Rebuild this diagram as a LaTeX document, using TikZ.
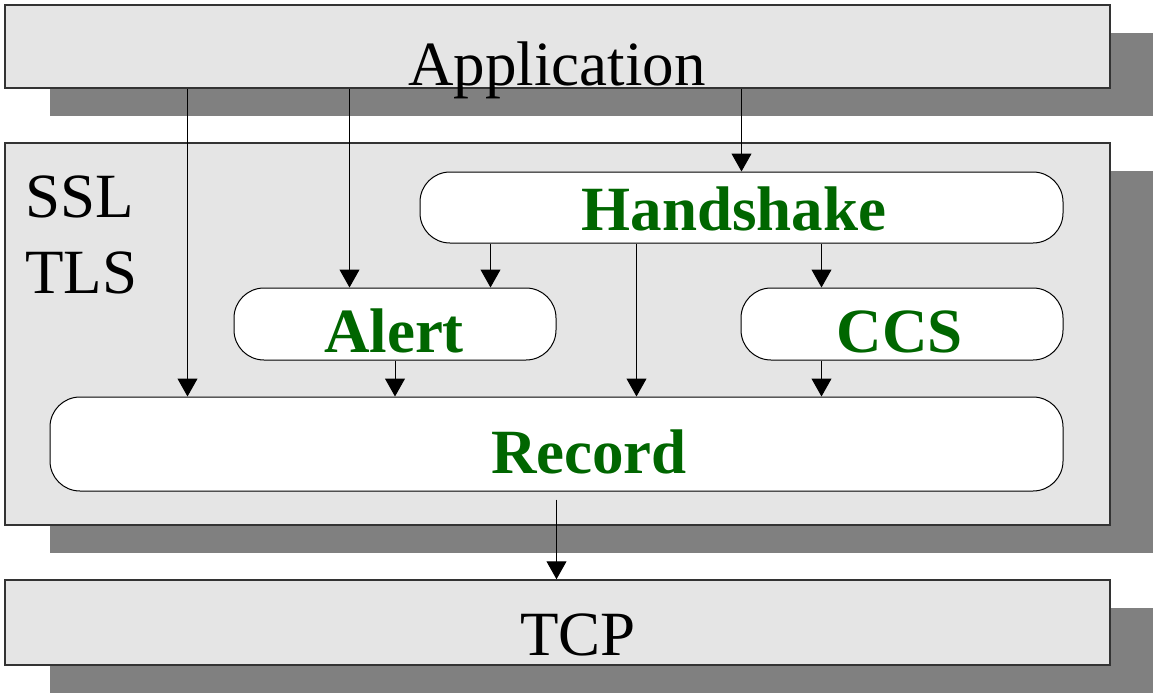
\documentclass[tikz,border=0pt]{standalone}
\usepackage{fontspec}
\setmainfont{Liberation Serif}
\usepackage{tikz}
\usetikzlibrary{positioning, arrows.meta, shadows}
\usepackage{xcolor}

\definecolor{protogreen}{RGB}{0,102,0}
\definecolor{layergray}{RGB}{229,229,229}
\definecolor{shadowgray}{RGB}{128,128,128}
\newcommand{\bigfont}{\fontsize{63}{70}\selectfont}

\tikzset{
    layer/.style={draw=black!80, line width=1.5pt, fill=layergray, inner sep=0pt,
        drop shadow={shadow xshift=45pt, shadow yshift=-28pt, fill=shadowgray, opacity=1}},
    proto/.style={draw=black, line width=1pt, fill=white, rounded corners=30pt, inner sep=0pt},
    txt/.style={anchor=base, inner sep=0pt, font=\bigfont},
    prototxt/.style={txt, font=\bigfont\bfseries, text=protogreen},
    arr/.style={-{Triangle[width=20pt, length=18pt]}, line width=1pt}
}

\begin{document}
\begin{tikzpicture}[x=1pt, y=-1pt]
    \useasboundingbox (0,0) rectangle (1153,693);

    % layers
    \node[layer, minimum width=1105pt, minimum height=83pt] (app) at (557.5,46.5) {};
    \node[layer, minimum width=1105pt, minimum height=382pt] (ssl) at (557.5,334) {};
    \node[layer, minimum width=1105pt, minimum height=85pt] (tcp) at (557.5,622.5) {};

    % protocols inside SSL/TLS
    \node[proto, minimum width=643pt, minimum height=71pt] (hs) at (741.5,207.5) {};
    \node[proto, minimum width=322pt, minimum height=72pt] (alert) at (395,324) {};
    \node[proto, minimum width=322pt, minimum height=72pt] (ccs) at (902,324) {};
    \node[proto, minimum width=1013pt, minimum height=94pt] (rec) at (556.5,444) {};

    % texts
    \node[txt] (apptxt) at (557,85) {Application};
    \node[txt, anchor=base west] (ssltxt) at (25,217) {SSL};
    \node[txt, anchor=base west] (tlstxt) at (25,293) {TLS};
    \node[txt] (tcptxt) at (578,655) {TCP};
    \node[prototxt] (hstxt) at (734,230) {Handshake};
    \node[prototxt] (alerttxt) at (394,352) {Alert};
    \node[prototxt] (ccstxt) at (900,352) {CCS};
    \node[prototxt] (rectxt) at (589,473) {Record};

    % application data paths
    \draw[arr] ([xshift=138pt]rec.north west |- app.south) -- ([xshift=138pt]rec.north west);
    \draw[arr] ([xshift=116pt]alert.north west |- app.south) -- ([xshift=116pt]alert.north west);
    \draw[arr] (hs.north |- app.south) -- (hs.north);

    % handshake to the others
    \draw[arr] ([xshift=-66pt]alert.north east |- hs.south) -- ([xshift=-66pt]alert.north east);
    \draw[arr] ([xshift=81pt]ccs.north west |- hs.south) -- ([xshift=81pt]ccs.north west);
    \draw[arr] ([xshift=217pt]hs.south west) -- ([xshift=217pt]hs.south west |- rec.north);

    % down to record and TCP
    \draw[arr] (alert.south) -- (alert.south |- rec.north);
    \draw[arr] ([xshift=81pt]ccs.south west) -- ([xshift=81pt]ccs.south west |- rec.north);
    \draw[arr, shorten <=8pt] (rec.south) -- (rec.south |- tcp.north);
\end{tikzpicture}
\end{document}
